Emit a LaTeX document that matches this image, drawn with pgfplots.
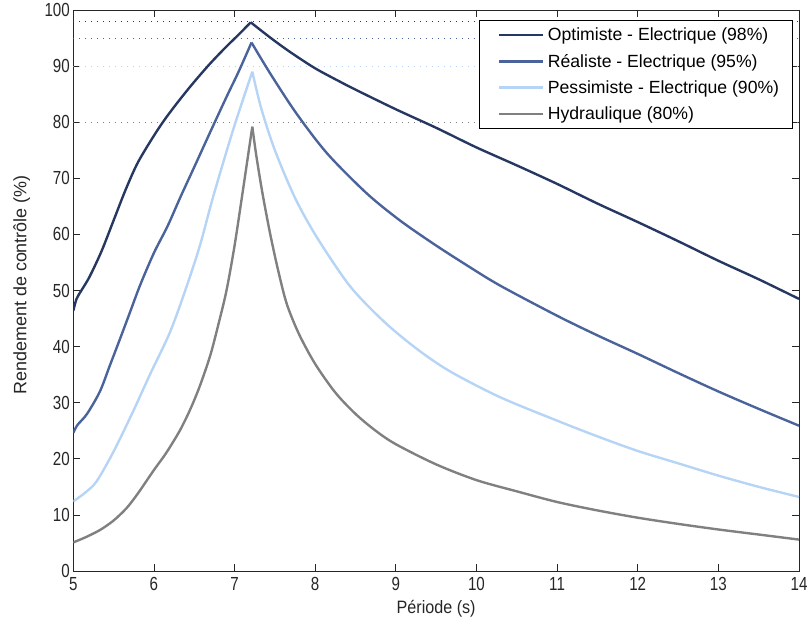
\documentclass[border=0pt]{standalone}
\usepackage{fontspec}
\setmainfont{Liberation Sans}
\newfontfamily\tickfont[FakeStretch=0.8]{Liberation Sans}
\newfontfamily\xlabfont[FakeStretch=0.9]{Liberation Sans}
\usepackage{pgfplots}
\pgfplotsset{compat=1.18}
\definecolor{cA}{RGB}{38,56,98}
\definecolor{cB}{RGB}{74,100,155}
\definecolor{cC}{RGB}{182,212,245}
\definecolor{cD}{RGB}{128,128,128}
\begin{document}
\begin{tikzpicture}
\path[use as bounding box] (-73.3bp,-54bp) rectangle (735.7bp,571bp);
\begin{axis}[
  at={(0,0)}, anchor=south west,
  scale only axis, width=725.7bp, height=561bp,
  xmin=5, xmax=14, ymin=0, ymax=100,
  xtick={5,6,...,14}, ytick={0,10,...,100},
  tick align=inside, major tick length=7bp,
  tick style={black!85, line width=0.7pt},
  axis line style={black!85, line width=0.8pt},
  /pgf/number format/assume math mode=true,
  ticklabel style={font=\tickfont\fontsize{19}{21}\selectfont, text=black!85},
  xticklabel style={yshift=-2.5bp},
  xlabel={\xlabfont Période (s)}, ylabel={Rendement de contrôle (\%)},
  xlabel style={font=\fontsize{18}{20}\selectfont, at={(axis description cs:0.5,0)}, anchor=base, yshift=-42bp, text=black!85},
  ylabel style={font=\fontsize{18}{20}\selectfont, at={([xshift=-51.6bp]axis description cs:0,0.51)}, anchor=center, text=black!85},
  legend style={at={(1,1)}, anchor=north east, xshift=-6bp, yshift=-10bp,
    draw=black, line width=0.7pt, fill=white,
    font=\fontsize{17.7}{20}\selectfont, row sep=8bp, inner xsep=10bp, inner ysep=5.5bp,
    nodes={inner xsep=3.5bp}},
  legend cell align=left,
  legend image code/.code={\path (0cm,0cm); \draw[#1, line width=2.4pt] (0.3cm,0cm) -- (1.85cm,0cm);},
]
% reference dotted lines
\addplot[forget plot, cA, dash pattern=on 1pt off 5pt, line width=1pt] coordinates {(5,98) (14,98)};
\addplot[forget plot, cB, dash pattern=on 1pt off 5pt, line width=1pt] coordinates {(5,95) (14,95)};
\addplot[forget plot, cC, dash pattern=on 1pt off 5pt, line width=1pt] coordinates {(5,90) (14,90)};
\addplot[forget plot, cD, dash pattern=on 1pt off 5pt, line width=1pt] coordinates {(5,80) (14,80)};

\addplot[cA, line width=2.4pt, smooth, tension=0.5] coordinates {
(5.0,46.4) (5.04,48.5) (5.1,50) (5.2,52.4) (5.35,57) (5.5,62.5) (5.65,68) (5.8,72.8)
(6.0,77.6) (6.15,80.8) (6.33,84.2) (6.5,87.2) (6.7,90.5) (6.9,93.5)
(7.05,95.6) (7.2,97.8)};
\addlegendentry{Optimiste - Electrique (98\%)}

\addplot[cB, line width=2.4pt, smooth, tension=0.5] coordinates {
(5.0,24.6) (5.05,26) (5.17,28) (5.33,32) (5.45,36.5) (5.58,41.4) (5.7,46) (5.83,51)
(6.0,56.7) (6.17,61.5) (6.33,66.7) (6.5,72) (6.7,78.3) (6.9,84.5) (7.05,89) (7.21,94.2)};
\addlegendentry{Réaliste - Electrique (95\%)}

\addplot[cC, line width=2.4pt, smooth, tension=0.5] coordinates {
(5.0,12.4) (5.15,14) (5.29,16) (5.5,21.3) (5.74,28.4) (5.95,35) (6.2,42.6) (6.4,50.5)
(6.57,58) (6.74,67) (6.99,79) (7.22,89)};
\addlegendentry{Pessimiste - Electrique (90\%)}

\addplot[cD, line width=2.4pt, smooth, tension=0.5] coordinates {
(5.0,5.1) (5.15,6.0) (5.33,7.3) (5.5,9) (5.66,11.2) (5.8,13.8) (6.0,18) (6.15,21)
(6.32,25) (6.45,28.8) (6.57,33) (6.7,38.5) (6.8,44) (6.9,50) (7.0,58) (7.1,67.5)
(7.22,79.2)};
\addlegendentry{Hydraulique (80\%)}

% right halves
\addplot[forget plot, cA, line width=2.4pt, smooth, tension=0.5] coordinates {
(7.2,97.8) (7.45,95) (7.69,92.5) (8.0,89.6) (8.31,87.2) (8.5,85.8)
(9.0,82.3) (9.5,79) (10.0,75.5) (10.5,72.3) (11.0,69) (11.5,65.5) (12.0,62.2)
(12.5,58.8) (13.0,55.3) (13.5,52) (14.0,48.5)};
\addplot[forget plot, cB, line width=2.4pt, smooth, tension=0.5] coordinates {
(7.21,94.2) (7.45,88.5) (7.77,81.5) (8.15,74.4) (8.64,67.3) (9.05,62.5) (9.47,58.3)
(9.88,54.5) (10.29,50.9) (11.0,45.5) (11.5,42) (12.0,38.7) (12.5,35.3) (13.0,32)
(13.5,28.9) (14.0,25.9)};
\addplot[forget plot, cC, line width=2.4pt, smooth, tension=0.5] coordinates {
(7.22,89) (7.33,82.5) (7.5,75) (7.75,66.5) (8.02,59.5) (8.43,50.8) (8.85,44.5) (9.26,39.6)
(9.67,35.6) (10.29,31) (11.0,26.8) (11.5,24) (12.0,21.4) (12.5,19.2) (13.0,17)
(13.5,15) (14.0,13.2)};
\addplot[forget plot, cD, line width=2.4pt, smooth, tension=0.5] coordinates {
(7.22,79.2) (7.27,74) (7.35,67) (7.45,59.5) (7.55,53) (7.65,47.5) (7.8,42.2) (8.0,36.9)
(8.25,31.8) (8.5,28) (8.75,25) (9.0,22.6) (9.5,19) (10.0,16.2) (10.5,14.2) (11.0,12.3)
(11.5,10.8) (12.0,9.5) (12.5,8.4) (13.0,7.4) (13.5,6.5) (14.0,5.6)};
\end{axis}
\end{tikzpicture}
\end{document}
